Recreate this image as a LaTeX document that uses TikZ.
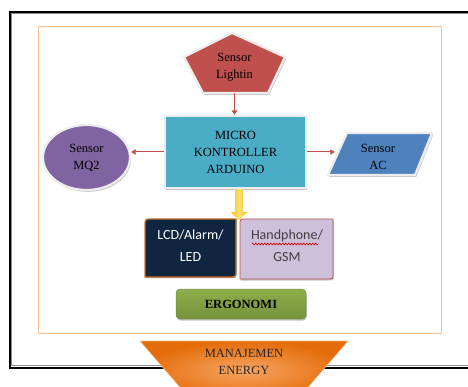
\documentclass[tikz,border=0pt]{standalone}
\usepackage{fontspec}
\setmainfont{Liberation Serif}
\newfontfamily\calib{Carlito}
\usetikzlibrary{arrows.meta,shadows,shapes.geometric,decorations.pathmorphing,calc}
\definecolor{cred}{HTML}{C0504D}
\definecolor{cteal}{HTML}{4BACC6}
\definecolor{cpurple}{HTML}{8064A2}
\definecolor{cblue}{HTML}{4F81BD}
\definecolor{cnavy}{HTML}{10253F}
\definecolor{cnavyedge}{HTML}{C8732F}
\definecolor{clav}{HTML}{CCC0DA}
\definecolor{cgreen}{HTML}{76923C}
\definecolor{cgreenL}{HTML}{8EAD4A}
\definecolor{corange}{HTML}{E46C0A}
\definecolor{corangeL}{HTML}{F7A562}
\definecolor{cpeach}{HTML}{FAC090}
\definecolor{cgold}{HTML}{F9B800}
\definecolor{cgoldL}{HTML}{FFE27A}
\definecolor{cbevel}{HTML}{EDEDED}
\tikzset{
  bevel/.style={draw=cbevel, line width=2.2pt,
    drop shadow={shadow xshift=1.2pt, shadow yshift=-1.8pt, fill=black!45, opacity=0.5}},
  hit/.style={inner sep=0pt, draw=none, fill=none},
  lbl/.style={font=\fontsize{12.5}{17}\selectfont, align=center, inner sep=0pt},
  cal/.style={font=\calib\fontsize{14}{22}\selectfont, align=center, inner sep=0pt},
  redarrow/.style={draw=cred, line width=1pt, -{Triangle[width=5.5pt,length=4.5pt]}},
}
\begin{document}
\begin{tikzpicture}[x=1pt,y=-1pt]
\useasboundingbox (0,0) rectangle (468,387);

% outer frame
\draw[black!45, line width=1pt] (11.8,13.8) rectangle (490,365.8);
\draw[black, line width=2pt] (10,12) rectangle (490,367.5);
% inner peach frame
\draw[cpeach, line width=1pt] (38,27) rectangle (441,333);

% Sensor Lightin (pentagon)
\path[fill=cred, bevel] (232,33) -- (285,57) -- (268,93) -- (203,93) -- (184,57) -- cycle;
\node[hit, minimum width=101pt, minimum height=60pt] (light) at (234.5,63) {};
\node[lbl] (lightT) at (234.5,67.5) {Sensor\\Lightin};

% Micro controller
\node[rectangle, fill=cteal, bevel, minimum width=141pt, minimum height=72pt, lbl] (mcu) at (235.5,152) {MICRO\\KONTROLLER\\ARDUINO};

% Sensor MQ2
\node[ellipse, fill=cpurple, bevel, minimum width=87pt, minimum height=65pt, lbl] (mq2) at (86.5,157.5) {Sensor\\MQ2};

% Sensor AC (parallelogram)
\path[fill=cblue, bevel] (347,133) -- (432,133) -- (415,175) -- (328,175) -- cycle;
\node[hit, minimum width=104pt, minimum height=42pt] (ac) at (380,154) {};
\node[lbl] (acT) at (378,157) {Sensor\\AC};

% connectors
\draw[redarrow] (light.south) -- (light.south |- mcu.north);
\draw[redarrow] (mcu.west) -- (mcu.west -| mq2.east);
\draw[redarrow] (mcu.east) -- ($(mcu.east -| ac.west)+(7,0)$);

% yellow block arrow
\coordinate (ya) at ($(mcu.south)+(3.5,0)$);
\shade[left color=cgold, right color=cgold, middle color=cgoldL]
  ($(ya)+(-4,0)$) -- ($(ya)+(4,0)$) -- ($(ya)+(4,23)$) -- ($(ya)+(8,23)$)
  -- ($(ya)+(0,31)$) -- ($(ya)+(-8,23)$) -- ($(ya)+(-4,23)$) -- cycle;

% LCD / Alarm / LED
\path[fill=cnavy, draw=cnavyedge, line width=1.3pt,
      drop shadow={shadow xshift=0.6pt, shadow yshift=-1.2pt, fill=cnavyedge!70!black, opacity=0.6}]
  (145,277) -- (145,226) .. controls (145,219) .. (152,219) -- (236,219)
  -- (236,270) .. controls (236,277) .. (229,277) -- cycle;
\node[cal, text=white] (lcd) at (190.5,246) {LCD/Alarm/\\LED};

% Handphone / GSM
\path[fill=clav, draw=cred, line width=0.8pt,
      drop shadow={shadow xshift=0.8pt, shadow yshift=-1.5pt, fill=black!50, opacity=0.5}]
  (240,279) -- (240,225) .. controls (240,219) .. (246,219) -- (333,219)
  -- (333,273) .. controls (333,279) .. (327,279) -- cycle;
\node[cal, text=black!75] (hp) at (287,246) {Handphone/\\GSM};
\draw[red!85!black, line width=0.6pt, decorate,
      decoration={zigzag, amplitude=0.9pt, segment length=3pt}] (252,244) -- (318,244);

% ERGONOMI
\node[rectangle, rounded corners=4pt, top color=cgreenL, bottom color=cgreen,
      draw=cgreen!85!black, line width=0.4pt,
      drop shadow={shadow xshift=0.8pt, shadow yshift=-1.5pt, fill=black!50, opacity=0.5},
      minimum width=130pt, minimum height=30pt, inner sep=0pt,
      font=\bfseries\fontsize{12.5}{15}\selectfont] (ergo) at (241,304) {ERGONOMI};

% MANAJEMEN ENERGY (inverted trapezoid)
\shade[inner color=corangeL, outer color=corange, draw=corange!45!white, line width=0.6pt]
  (140,341) -- (348,341) -- (297,400) -- (191,400) -- cycle;
\node[lbl, text=black!85] (mgmt) at (244,362) {MANAJEMEN\\ENERGY};
\end{tikzpicture}
\end{document}
